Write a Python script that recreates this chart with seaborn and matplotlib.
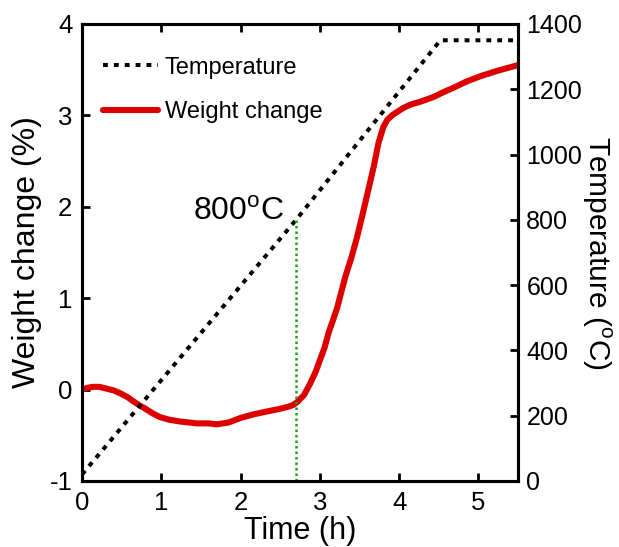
import numpy as np
import pandas as pd
import seaborn as sns
from matplotlib import pyplot as plt

# weight change curve (h, %)
time_h = [0.0, 0.07, 0.14, 0.22, 0.31, 0.40, 0.48, 0.57, 0.65, 0.72, 0.80,
          0.89, 0.98, 1.10, 1.24, 1.45, 1.60, 1.70, 1.85, 2.00, 2.17,
          2.33, 2.50, 2.59, 2.66, 2.71, 2.80, 2.88, 2.95, 3.00, 3.06,
          3.11, 3.17, 3.22, 3.32, 3.40, 3.47, 3.54, 3.61, 3.68, 3.74,
          3.80, 3.85, 3.91, 3.98, 4.05, 4.15, 4.27, 4.43, 4.55, 4.68,
          4.85, 5.03, 5.25, 5.50]
weight = [0.0, 0.02, 0.03, 0.03, 0.01, -0.01, -0.04, -0.08, -0.13, -0.17, -0.21,
          -0.26, -0.30, -0.33, -0.35, -0.37, -0.37, -0.38, -0.36, -0.31, -0.27,
          -0.24, -0.21, -0.19, -0.17, -0.14, -0.06, 0.07, 0.20, 0.32, 0.46,
          0.62, 0.77, 0.90, 1.23, 1.45, 1.67, 1.92, 2.18, 2.44, 2.70,
          2.87, 2.95, 3.00, 3.04, 3.08, 3.12, 3.15, 3.20, 3.25, 3.30,
          3.37, 3.43, 3.49, 3.55]

# furnace program (h, degC)
temp_time = [0.0, 2.7, 4.52, 5.5]
temp = [20, 800, 1350, 1350]

marker_time = 2.7
marker_temp = 800

sns.set_style('ticks')
plt.rcParams['font.family'] = ['Liberation Sans', 'DejaVu Sans']
plt.rcParams['mathtext.fontset'] = 'custom'
plt.rcParams['mathtext.rm'] = 'Liberation Sans'
plt.rcParams['axes.unicode_minus'] = False
plt.rcParams['text.color'] = 'black'
plt.rcParams['axes.labelcolor'] = 'black'

fig = plt.figure(figsize=(6.19, 5.47), dpi=100)
ax = fig.add_axes([0.1325, 0.1207, 0.7044, 0.8355])
ax2 = ax.twinx()

df_w = pd.DataFrame({'time': time_h, 'weight': weight})
df_t = pd.DataFrame({'time': temp_time, 'temp': temp})

sns.lineplot(data=df_t, x='time', y='temp', ax=ax2, color='black',
             linewidth=2.9, label='Temperature', sort=False)
ax2.lines[0].set_dashes((1.2, 1.5))
ax2.lines[0].set_dash_capstyle('butt')

sns.lineplot(data=df_w, x='time', y='weight', ax=ax, color='#dd0000',
             linewidth=4.4, label='Weight change', sort=False)
ax.lines[0].set_solid_joinstyle('round')

# 800 C marker line
ax2.plot([marker_time, marker_time], [0, marker_temp], color='#1aa31a',
         linewidth=1.8, linestyle=(0, (1, 1.2)))
ax2.text(1.40, 800, '800$^{\\rm o}$C', fontsize=23, ha='left', va='baseline')

ax.set_xlim(0, 5.5)
ax.set_ylim(-1, 4)
ax2.set_ylim(0, 1400)
ax.set_xticks([0, 1, 2, 3, 4, 5])
ax.set_yticks([-1, 0, 1, 2, 3, 4])
ax2.set_yticks(np.arange(0, 1401, 200))

ax.set_xlabel('Time (h)', fontsize=22, labelpad=1)
ax.set_ylabel('Weight change (%)', fontsize=23, labelpad=5)
ax2.set_ylabel('Temperature ($^{\\rm o}$C)', fontsize=21.5, rotation=270, labelpad=22)

for a in (ax, ax2):
    for s in a.spines.values():
        s.set_linewidth(2.2)
        s.set_color('black')
    a.tick_params(direction='in', width=2.0, length=6, labelsize=18.5, pad=7, colors='black')
ax.tick_params(axis='x', top=True)
ax.tick_params(axis='y', right=False)
ax2.tick_params(axis='y', left=False, pad=6, labelsize=18)

# combined legend, temperature first
h1, l1 = ax2.get_legend_handles_labels()
h2, l2 = ax.get_legend_handles_labels()
ax2.get_legend().remove()
ax.get_legend().remove()
ax2.legend(h1 + h2, l1 + l2, loc='upper left', frameon=False, fontsize=17,
           handlelength=2.3, handletextpad=0.3, labelspacing=0.95,
           bbox_to_anchor=(0.0, 0.975))

fig.savefig('out.png', dpi=100)
